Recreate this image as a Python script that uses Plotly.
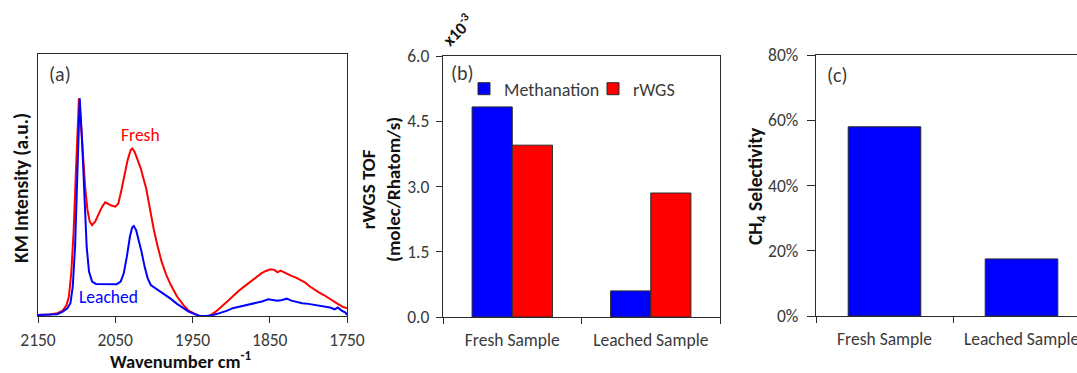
import plotly.graph_objects as go

W, H = 1077, 373

# ---- (a) DRIFTS spectra: wavenumber (cm-1) vs KM intensity (a.u.) ----
wn_leached = [2150, 2135, 2125, 2118, 2112, 2108, 2105, 2102, 2099, 2096, 2093, 2090,
              2087, 2084, 2080, 2075, 2065, 2055, 2048, 2043, 2039, 2035, 2031, 2028,
              2026, 2023, 2020, 2016, 2012, 2008, 2004, 2000, 1993, 1986, 1978, 1970,
              1962, 1955, 1948, 1940, 1932, 1925, 1918, 1912, 1905, 1898, 1890, 1882,
              1875, 1868, 1860, 1852, 1846, 1840, 1834, 1828, 1822, 1815, 1808, 1800,
              1793, 1786, 1779, 1772, 1766, 1762, 1757, 1752, 1750]
km_leached = [0.0, 0.0, 0.003, 0.015, 0.031, 0.054, 0.131, 0.315, 0.654, 1.0, 0.808, 0.531,
              0.315, 0.2, 0.154, 0.143, 0.142, 0.142, 0.142, 0.154, 0.192, 0.269, 0.362, 0.405,
              0.411, 0.392, 0.354, 0.292, 0.223, 0.169, 0.138, 0.128, 0.112, 0.097, 0.074, 0.051,
              0.031, 0.015, 0.005, -0.005, -0.005, -0.002, 0.005, 0.011, 0.02, 0.031, 0.038, 0.043,
              0.051, 0.054, 0.062, 0.072, 0.069, 0.066, 0.069, 0.075, 0.066, 0.06, 0.054, 0.051,
              0.046, 0.043, 0.038, 0.034, 0.026, 0.034, 0.02, 0.011, 0.0]

wn_fresh = [2150, 2135, 2125, 2118, 2113, 2110, 2107, 2104, 2101, 2098, 2097, 2095, 2092,
            2089, 2086, 2083, 2080, 2076, 2072, 2067, 2063, 2059, 2055, 2050, 2046, 2042,
            2038, 2034, 2030, 2028, 2025, 2021, 2017, 2013, 2010, 2008, 2004, 2000, 1995,
            1990, 1984, 1978, 1970, 1962, 1955, 1948, 1940, 1932, 1926, 1920, 1912, 1905,
            1898, 1890, 1882, 1875, 1868, 1861, 1855, 1849, 1844, 1840, 1836, 1832, 1828,
            1822, 1816, 1810, 1804, 1798, 1792, 1786, 1780, 1774, 1768, 1762, 1756, 1750]
km_fresh = [0.0, 0.002, 0.008, 0.02, 0.046, 0.085, 0.192, 0.377, 0.654, 0.962, 1.0, 0.915, 0.746,
            0.592, 0.485, 0.431, 0.415, 0.431, 0.462, 0.5, 0.52, 0.512, 0.505, 0.5, 0.515, 0.577,
            0.654, 0.715, 0.762, 0.769, 0.754, 0.715, 0.677, 0.623, 0.585, 0.546, 0.469, 0.392, 0.315,
            0.246, 0.185, 0.138, 0.085, 0.046, 0.02, 0.005, -0.008, -0.008, 0.0, 0.015, 0.038, 0.062,
            0.085, 0.112, 0.134, 0.154, 0.174, 0.192, 0.203, 0.211, 0.208, 0.197, 0.205, 0.197, 0.192,
            0.18, 0.172, 0.162, 0.149, 0.131, 0.115, 0.103, 0.092, 0.077, 0.062, 0.051, 0.038, 0.031]

wn_ticks = [2150, 2050, 1950, 1850, 1750]

# ---- (b) turnover frequencies (x10^-3 molec/Rhatom/s) ----
samples = ["Fresh Sample", "Leached Sample"]
tof_methanation = [4.83, 0.60]
tof_rwgs = [3.95, 2.85]

# ---- (c) CH4 selectivity ----
ch4_selectivity = [0.58, 0.175]

FONT = "Carlito, Lato, 'Open Sans', sans-serif"
AX = "#2b2b2b"
TXT = "#3a3a3a"
TITLE = "#111111"
BLUE = "#0000FF"
RED = "#FF0000"
TICK_SIZE = 17.5
TITLE_SIZE = 19.5


def px_x(x):
    return x / W


def px_y(y):
    return 1 - y / H


fig = go.Figure()

fig.add_trace(go.Scatter(x=wn_fresh, y=km_fresh, mode="lines", line=dict(color=RED, width=2),
                         xaxis="x", yaxis="y", showlegend=False, name="Fresh"))
fig.add_trace(go.Scatter(x=wn_leached, y=km_leached, mode="lines", line=dict(color=BLUE, width=2),
                         xaxis="x", yaxis="y", showlegend=False, name="Leached"))

fig.add_trace(go.Bar(x=samples, y=tof_methanation, name="Methanation",
                     marker=dict(color=BLUE, line=dict(color=AX, width=1)),
                     width=0.29, offset=-0.29, xaxis="x2", yaxis="y2"))
fig.add_trace(go.Bar(x=samples, y=tof_rwgs, name="rWGS",
                     marker=dict(color=RED, line=dict(color=AX, width=1)),
                     width=0.29, offset=0.0, xaxis="x2", yaxis="y2"))

fig.add_trace(go.Bar(x=samples, y=ch4_selectivity, name="CH4 selectivity",
                     marker=dict(color=BLUE, line=dict(color=AX, width=1)),
                     width=0.53, xaxis="x3", yaxis="y3", showlegend=False))

tickfont = dict(family=FONT, size=TICK_SIZE, color=TXT)
axline = dict(showline=True, linecolor=AX, linewidth=1.4, showgrid=False, zeroline=False,
              tickfont=tickfont, ticks="outside", tickcolor=AX, ticklen=6, tickwidth=1.2,
              automargin=False)

fig.update_layout(
    template="none",
    width=W, height=H, margin=dict(l=0, r=0, t=0, b=0, pad=0, autoexpand=False),
    paper_bgcolor="white", plot_bgcolor="white",
    font=dict(family=FONT, color=TXT),
    barmode="overlay",
    xaxis=dict(domain=[px_x(38), px_x(347)], range=[2150, 1750], tickvals=wn_ticks,
               mirror=True, anchor="y", ticklabelstandoff=2, **axline),
    # second set of tick marks pointing inward so the wavenumber ticks cross the axis
    xaxis4=dict(overlaying="x", anchor="y", side="bottom", range=[2150, 1750], tickvals=wn_ticks,
                showticklabels=False, ticks="inside", ticklen=5, tickwidth=1.2, tickcolor=AX,
                showline=False, showgrid=False, zeroline=False, automargin=False),
    yaxis=dict(domain=[px_y(316), px_y(54)], range=[-0.005, 1.205], showticklabels=False,
               mirror=True, anchor="x", **{**axline, "ticks": ""}),
    xaxis2=dict(domain=[px_x(443), px_x(720)], range=[-0.5, 1.5], type="category",
                tickson="boundaries", mirror=True, anchor="y2", ticklabelstandoff=7, **axline),
    yaxis2=dict(domain=[px_y(317), px_y(56)], range=[0, 6.0], dtick=1.5, tickformat=".1f",
                mirror=True, anchor="x2", ticklabelstandoff=3, **axline),
    xaxis3=dict(domain=[px_x(816), 1.0], range=[-0.5, 1.405], type="category",
                tickson="boundaries", mirror=True, anchor="y3", ticklabelstandoff=7, **axline),
    yaxis3=dict(domain=[px_y(316), px_y(55)], range=[0, 0.8], dtick=0.2, tickformat=".0%",
                anchor="x3", ticklabelstandoff=5, **{**axline, "ticklen": 8}),
    legend=dict(orientation="h", x=px_x(464), y=px_y(89), xanchor="left", yanchor="middle",
                bgcolor="rgba(0,0,0,0)", borderwidth=0, entrywidth=84, entrywidthmode="pixels",
                font=dict(family=FONT, size=18, color=TXT), itemwidth=30, tracegroupgap=0),
)

ann = []


def label(text, x, y, size=16, color=TXT, angle=0):
    ann.append(dict(text=text, x=px_x(x), y=px_y(y), xref="paper", yref="paper", showarrow=False,
                    textangle=angle, font=dict(family=FONT, size=size, color=color),
                    xanchor="center", yanchor="middle"))


# panel tags
label("(a)", 60, 74, size=20)
label("(b)", 462, 73, size=20)
label("(c)", 837, 75, size=20)

# spectrum labels
label("Fresh", 140, 135, size=17.5, color=RED)
label("Leached", 108, 297, size=17.5, color=BLUE)

# axis titles
label("<b>KM Intensity (a.u.)</b>", 21, 188, size=TITLE_SIZE, color=TITLE, angle=-90)
label("<b>Wavenumber cm<sup>-1</sup></b>", 181, 360.5, size=18.5, color=TITLE)
label("<b>rWGS TOF</b><br><b>(molec/Rhatom/s)</b>", 381, 190, size=TITLE_SIZE - 0.5, color=TITLE, angle=-90)
label("<b>x10<sup>-3</sup></b>", 457, 30, size=17, color=TITLE, angle=-45)
label("<b>CH<sub>4</sub> Selectivity</b>", 756, 186, size=TITLE_SIZE, color=TITLE, angle=-90)

fig.update_layout(annotations=ann)

fig.write_html("out.html")
